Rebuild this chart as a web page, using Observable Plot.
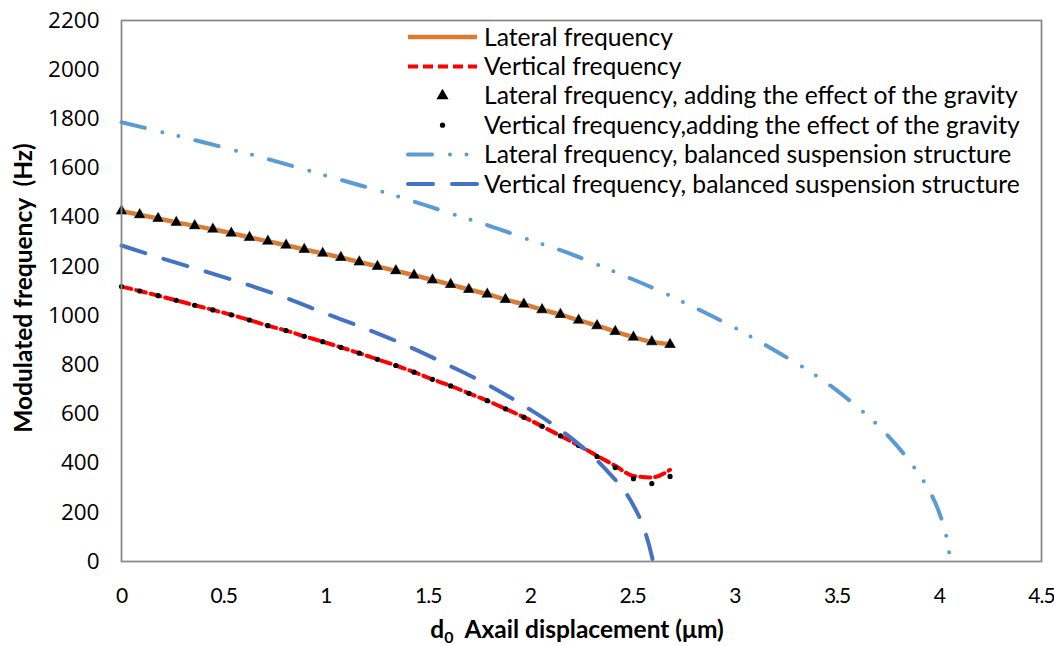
<!DOCTYPE html>
<html>
<head>
<meta charset="utf-8">
<script src="https://cdn.jsdelivr.net/npm/d3@7"></script>
<script src="https://cdn.jsdelivr.net/npm/@observablehq/plot@0.6"></script>
<style>
  html, body { margin: 0; padding: 0; background: #fff; }
  #chart { width: 1054px; height: 646px; }
</style>
</head>
<body>
<div id="chart"></div>
<script>
// ---- Data ----
const d0 = [0, 0.089, 0.179, 0.268, 0.358, 0.447, 0.537, 0.626, 0.716, 0.805, 0.894, 0.984, 1.073, 1.163, 1.252, 1.342,
            1.431, 1.521, 1.61, 1.699, 1.789, 1.878, 1.968, 2.057, 2.147, 2.236, 2.326, 2.415, 2.504, 2.594, 2.683];
const lateralFreq = [1425, 1410, 1395, 1379, 1365, 1351, 1335, 1318, 1302, 1286, 1269, 1253, 1236, 1218, 1200, 1182,
                     1164, 1145, 1126, 1106, 1087, 1065, 1046, 1024, 1004, 981, 959, 935, 912, 893, 884];
const verticalFreq = [1118, 1100, 1081, 1062, 1042, 1023, 1003, 982, 959, 939, 916, 894, 871, 847, 822, 797,
                      770, 741, 714, 684, 654, 621, 587, 550, 511, 472, 430, 389, 348, 342, 373];
const lateralGravity = [1425, 1410, 1395, 1379, 1365, 1351, 1335, 1318, 1302, 1286, 1269, 1253, 1236, 1218, 1200, 1182,
                        1164, 1145, 1126, 1106, 1087, 1065, 1046, 1024, 1004, 981, 959, 935, 912, 894, 882];
const verticalGravity = [1118, 1100, 1081, 1062, 1042, 1023, 1003, 982, 959, 939, 916, 894, 871, 847, 822, 797,
                         770, 741, 714, 684, 654, 621, 587, 550, 511, 472, 427, 382, 337, 317, 346];

const balLateralX = [0, 0.2, 0.4, 0.6, 0.8, 1.0, 1.2, 1.4, 1.6, 1.8, 2.0, 2.2, 2.4, 2.6, 2.8, 3.0, 3.2, 3.4, 3.5, 3.6, 3.7, 3.8, 3.9, 3.95, 4.0, 4.035, 4.055];
const balLateralY = [1786, 1746, 1705, 1662, 1617, 1569, 1522, 1472, 1418, 1365, 1307, 1250, 1182, 1112, 1034, 950, 856, 754, 695, 628, 553, 464, 355, 290, 198, 100, 0];

const balVerticalX = [0, 0.2, 0.4, 0.6, 0.8, 1.0, 1.2, 1.4, 1.6, 1.8, 2.0, 2.1, 2.2, 2.3, 2.4, 2.45, 2.5, 2.55, 2.58, 2.6];
const balVerticalY = [1285, 1232, 1182, 1130, 1073, 1008, 945, 876, 798, 715, 617, 563, 502, 432, 346, 298, 234, 146, 68, 0];

const xTicks = [0, 0.5, 1, 1.5, 2, 2.5, 3, 3.5, 4, 4.5];
const yTicks = [0, 200, 400, 600, 800, 1000, 1200, 1400, 1600, 1800, 2000, 2200];

const legendLabels = [
  "Lateral frequency",
  "Vertical frequency",
  "Lateral frequency, adding the effect of the gravity",
  "Vertical frequency,adding the effect of the gravity",
  "Lateral frequency, balanced suspension structure",
  "Vertical frequency, balanced suspension structure"
];
const xLabelMain = "d";
const xLabelSub = "0";
const xLabelRest = "  Axail displacement (μm)";
const yLabel = "Modulated frequency  (Hz)";

// ---- Styles ----
const C = {
  orange: "#DC7A30",
  red: "#FF0000",
  light: "#5B9BD5",
  dark: "#4472C4"
};
const lightDash = "24 18 0 16.5 0 17.5";
const darkDash = "25 19";
const redDash = "10 5";

const toRows = (xs, ys) => xs.map((x, i) => ({x, y: ys[i]}));
const rowsLateral = toRows(d0, lateralFreq);
const rowsVertical = toRows(d0, verticalFreq);
const rowsLatG = toRows(d0, lateralGravity);
const rowsVerG = toRows(d0, verticalGravity);
const rowsBalLat = toRows(balLateralX, balLateralY);
const rowsBalVer = toRows(balVerticalX, balVerticalY);

const W = 1054, H = 646;
const mL = 121, mR = 13, mT = 20, mB = 85;
const triR = 4.5;

const svg = Plot.plot({
  width: W,
  height: H,
  marginLeft: mL,
  marginRight: mR,
  marginTop: mT,
  marginBottom: mB,
  style: {background: "#fff", overflow: "visible"},
  x: {domain: [0, 4.5]},
  y: {domain: [0, 2200]},
  marks: [
    Plot.axisX({ticks: xTicks, tickFormat: d => String(d), tickSize: 0, tickPadding: 27,
      fontSize: 21, fontFamily: "Lato, sans-serif", fill: "#000", label: null}),
    Plot.axisY({ticks: yTicks, tickFormat: d => String(d), tickSize: 0, tickPadding: 22,
      fontSize: 22.5, fontFamily: "'Open Sans', sans-serif", fill: "#000", label: null}),
    Plot.line(rowsLateral, {x: "x", y: "y", stroke: C.orange, strokeWidth: 4.5, curve: "monotone-x"}),
    Plot.line(rowsVertical, {x: "x", y: "y", stroke: C.red, strokeWidth: 4, strokeDasharray: redDash, curve: "monotone-x"}),
    Plot.dot(rowsLatG, {x: "x", y: "y", symbol: "triangle", r: triR, fill: "#000", stroke: "#fff", strokeWidth: 0.4}),
    Plot.dot(rowsVerG, {x: "x", y: "y", r: 2.6, fill: "#000"}),
    Plot.line(rowsBalLat, {x: "x", y: "y", stroke: C.light, strokeWidth: 4, strokeDasharray: lightDash, strokeLinecap: "round", curve: "monotone-x"}),
    Plot.line(rowsBalVer, {x: "x", y: "y", stroke: C.dark, strokeWidth: 4, strokeDasharray: darkDash, strokeLinecap: "round", curve: "monotone-x"}),
    Plot.frame({stroke: "#8a8a8a", strokeWidth: 1.8})
  ]
});

document.getElementById("chart").appendChild(svg);

const s = d3.select(svg);
// tighten x tick labels (narrow font in the reference)
s.selectAll('g[aria-label="x-axis tick label"] text').style("letter-spacing", "-1px");

// ---- Axis titles ----
const xt = s.append("text")
  .attr("x", 577).attr("y", 638)
  .attr("text-anchor", "middle")
  .attr("font-family", "Lato, sans-serif")
  .attr("font-weight", "bold")
  .attr("font-size", 24.5)
  .attr("fill", "#000")
  .style("white-space", "pre");
xt.append("tspan").text(xLabelMain);
xt.append("tspan").attr("font-size", 16).attr("dy", 5).text(xLabelSub);
xt.append("tspan").attr("dy", -5).text(xLabelRest);

s.append("text")
  .attr("transform", "translate(32,288) rotate(-90)")
  .attr("text-anchor", "middle")
  .attr("font-family", "Lato, sans-serif")
  .attr("font-weight", "bold")
  .attr("font-size", 24.5)
  .attr("fill", "#000")
  .style("white-space", "pre")
  .text(yLabel);

// ---- Legend (inside plot area) ----
const lg = s.append("g")
  .attr("font-family", "Lato, sans-serif")
  .attr("font-size", 24.7)
  .attr("text-anchor", "start")
  .attr("fill", "#000");
const rowY0 = 37, rowDy = 29.4, sx0 = 408, sx1 = 477, tx = 484;
const kinds = ["orange", "red", "tri", "dot", "light", "dark"];
kinds.forEach((k, i) => {
  const y = rowY0 + i * rowDy;
  if (k === "orange") lg.append("line").attr("x1", sx0).attr("x2", sx1).attr("y1", y).attr("y2", y).attr("stroke", C.orange).attr("stroke-width", 4.5);
  if (k === "red") lg.append("line").attr("x1", sx0).attr("x2", sx1).attr("y1", y).attr("y2", y).attr("stroke", C.red).attr("stroke-width", 4).attr("stroke-dasharray", redDash);
  if (k === "tri") lg.append("path").attr("d", d3.symbol(d3.symbolTriangle, Math.PI * triR * triR)()).attr("transform", `translate(${(sx0 + sx1) / 2},${y})`).attr("fill", "#000");
  if (k === "dot") lg.append("circle").attr("cx", (sx0 + sx1) / 2).attr("cy", y).attr("r", 2.6).attr("fill", "#000");
  if (k === "light") lg.append("line").attr("x1", sx0).attr("x2", sx1).attr("y1", y).attr("y2", y).attr("stroke", C.light).attr("stroke-width", 4).attr("stroke-linecap", "round").attr("stroke-dasharray", lightDash);
  if (k === "dark") lg.append("line").attr("x1", sx0).attr("x2", sx1).attr("y1", y).attr("y2", y).attr("stroke", C.dark).attr("stroke-width", 4).attr("stroke-linecap", "round").attr("stroke-dasharray", darkDash);
  lg.append("text").attr("x", tx).attr("y", y).attr("dy", "0.35em").attr("text-anchor", "start").text(legendLabels[i]);
});
</script>
</body>
</html>
